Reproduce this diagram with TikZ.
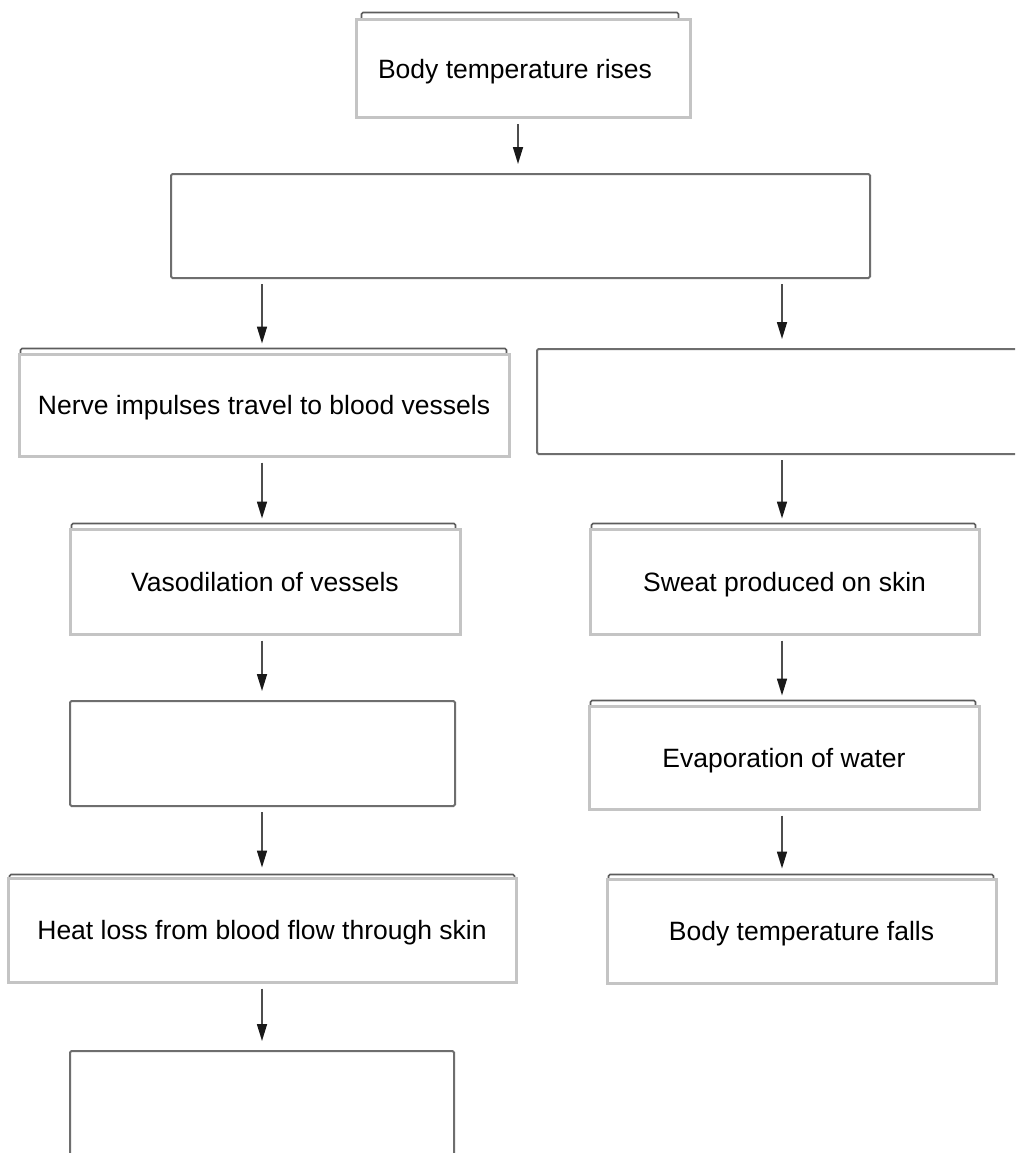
\documentclass[tikz,border=0pt]{standalone}
\usepackage{fontspec}
\setmainfont{Liberation Sans}
\usepackage{xcolor}
\usetikzlibrary{arrows.meta}
\usetikzlibrary{backgrounds}

\definecolor{boxgray}{HTML}{C4C4C4}
\definecolor{emptygray}{HTML}{6E6E6E}
\definecolor{backgray}{HTML}{5C5C5C}
\definecolor{arrowgray}{HTML}{4D4D4D}

\tikzset{
  textbox/.style={draw=boxgray, line width=3pt, fill=white, inner sep=0pt,
    text depth=0pt, font=\fontsize{26.5}{30}\selectfont},
  emptybox/.style={draw=emptygray, line width=2pt, fill=white, rounded corners=1.5pt, inner sep=0pt},
  backline/.style={draw=backgray, line width=1.6pt, rounded corners=1.5pt},
  flow/.style={draw=arrowgray, line width=1.6pt,
    -{Triangle[length=17pt,width=10pt,color=black!90,fill=black!90]},
    shorten <=5pt, shorten >=9pt}
}

\begin{document}
\begin{tikzpicture}[x=1pt,y=-1pt]
\clip (0,0) rectangle (1015,1153);

%columns for the arrows
\coordinate (mcol) at (518,0);
\coordinate (lcol) at (262,0);
\coordinate (rcol) at (782,0);

%boxes
\node[textbox, minimum width=334, minimum height=98] (rise) at (523,69) {Body temperature rises\kern16pt\null};
\node[emptybox, minimum width=699, minimum height=104] (brain) at (520.5,226) {};

\node[textbox, minimum width=490, minimum height=102] (nerve) at (264,405) {Nerve impulses travel to blood vessels};
\node[emptybox, minimum width=503, minimum height=105] (glands) at (788.5,401.5) {};

\node[textbox, minimum width=390, minimum height=105] (vaso) at (265,581.5) {Vasodilation of vessels};
\node[textbox, minimum width=389, minimum height=105] (sweat) at (784.5,581.5) {Sweat produced on skin};

\node[emptybox, minimum width=385, minimum height=105] (flowup) at (262.5,753.5) {};
\node[textbox, minimum width=390, minimum height=103] (evap) at (784,757.5) {Evaporation of water};

\node[textbox, minimum width=508, minimum height=104] (heat) at (262,930) {Heat loss from blood flow through skin};
\node[textbox, minimum width=389, minimum height=104] (falls) at (801.5,931) {Body temperature falls};

\node[emptybox, minimum width=384, minimum height=109] (result) at (262,1105.5) {};

%thin outlines showing above the grey boxes
\begin{scope}[on background layer]
\fill[white] (0,0) rectangle (1015,1153);
\draw[backline] ([xshift=7pt,yshift=6pt]rise.north west) rectangle ([xshift=-13pt,yshift=20pt]rise.south east);
\draw[backline] ([xshift=3pt,yshift=4pt]nerve.north west) rectangle ([xshift=-4pt,yshift=20pt]nerve.south east);
\draw[backline] ([xshift=3pt,yshift=4pt]vaso.north west) rectangle ([xshift=-6pt,yshift=20pt]vaso.south east);
\draw[backline] ([xshift=3pt,yshift=4pt]sweat.north west) rectangle ([xshift=-5pt,yshift=20pt]sweat.south east);
\draw[backline] ([xshift=3pt,yshift=4pt]evap.north west) rectangle ([xshift=-5pt,yshift=20pt]evap.south east);
\draw[backline] ([xshift=3pt,yshift=2pt]heat.north west) rectangle ([xshift=-3pt,yshift=20pt]heat.south east);
\draw[backline] ([xshift=3pt,yshift=3pt]falls.north west) rectangle ([xshift=-4pt,yshift=20pt]falls.south east);
\end{scope}

%arrows
\draw[flow] (rise.south -| mcol) -- (brain.north -| mcol);
\draw[flow] (brain.south -| lcol) -- (nerve.north -| lcol);
\draw[flow] (brain.south -| rcol) -- (glands.north -| rcol);
\draw[flow] (nerve.south -| lcol) -- (vaso.north -| lcol);
\draw[flow] (glands.south -| rcol) -- (sweat.north -| rcol);
\draw[flow] (vaso.south -| lcol) -- (flowup.north -| lcol);
\draw[flow] (sweat.south -| rcol) -- (evap.north -| rcol);
\draw[flow] (flowup.south -| lcol) -- (heat.north -| lcol);
\draw[flow] (evap.south -| rcol) -- (falls.north -| rcol);
\draw[flow] (heat.south -| lcol) -- (result.north -| lcol);
\end{tikzpicture}
\end{document}
